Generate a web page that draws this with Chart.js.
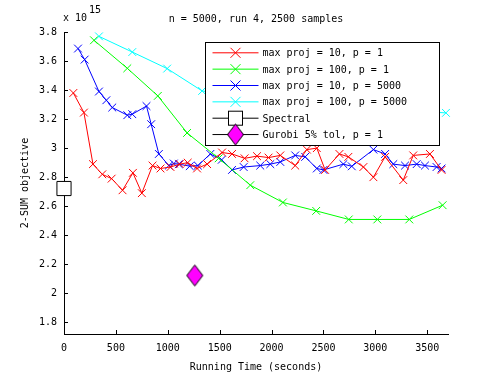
<!DOCTYPE html>
<html>
<head>
<meta charset="utf-8">
<script src="https://cdn.jsdelivr.net/npm/chart.js@4/dist/chart.umd.min.js"></script>
<style>
  body { margin: 0; background: #fff; }
  canvas { display: block; }
</style>
</head>
<body>
<canvas id="chart" width="495" height="375"></canvas>
<script>
// values are in units of 10^15
var redTime = [90, 192, 279, 369, 459, 564, 664, 750, 853, 930, 1026, 1115, 1192, 1282, 1379, 1523, 1619, 1740, 1860, 1971, 2084, 2228, 2340, 2436, 2516, 2654, 2740, 2885, 2981, 3094, 3269, 3365, 3526, 3638];
var redObj = [3.38, 3.245, 2.89, 2.82, 2.79, 2.71, 2.83, 2.69, 2.88, 2.86, 2.87, 2.89, 2.90, 2.86, 2.89, 2.97, 2.96, 2.93, 2.945, 2.935, 2.95, 2.88, 2.99, 3.0, 2.85, 2.96, 2.94, 2.87, 2.80, 2.94, 2.78, 2.95, 2.96, 2.85];

var greenTime = [289, 610, 904, 1186, 1490, 1795, 2109, 2430, 2744, 3019, 3327, 3648];
var greenObj = [3.743, 3.55, 3.36, 3.105, 2.93, 2.745, 2.626, 2.568, 2.509, 2.509, 2.509, 2.607];

var blueTime = [135, 199, 337, 408, 465, 610, 658, 795, 840, 914, 1010, 1058, 1106, 1212, 1290, 1410, 1520, 1619, 1731, 1891, 1988, 2084, 2228, 2324, 2436, 2500, 2692, 2773, 2981, 3094, 3173, 3286, 3398, 3478, 3590, 3638];
var blueObj = [3.686, 3.61, 3.39, 3.33, 3.28, 3.227, 3.234, 3.29, 3.165, 2.96, 2.88, 2.894, 2.89, 2.876, 2.88, 2.96, 2.92, 2.85, 2.87, 2.88, 2.89, 2.905, 2.95, 2.94, 2.86, 2.85, 2.89, 2.875, 2.99, 2.96, 2.89, 2.88, 2.89, 2.88, 2.87, 2.86];

var cyanTime = [337, 658, 994, 1331, 1660, 2000, 2330, 2660, 3000, 3340, 3680];
var cyanObj = [3.77, 3.662, 3.548, 3.394, 3.36, 3.335, 3.31, 3.29, 3.27, 3.255, 3.243];

var spectralTime = [0];
var spectralObj = [2.722];
var gurobiTime = [1260];
var gurobiObj = [2.123];

var seriesNames = ['max proj = 10, p = 1', 'max proj = 100, p = 1', 'max proj = 10, p = 5000', 'max proj = 100, p = 5000', 'Spectral', 'Gurobi 5% tol, p = 1'];
var seriesColors = ['#ff0000', '#00ff00', '#0000ff', '#00ffff', '#000000', '#000000'];

var xTicks = [0, 500, 1000, 1500, 2000, 2500, 3000, 3500];
var yTicks = [1.8, 2, 2.2, 2.4, 2.6, 2.8, 3, 3.2, 3.4, 3.6, 3.8];

var FONT = 'DejaVu Sans Mono';
Chart.defaults.font.family = FONT;
Chart.defaults.font.size = 10;
Chart.defaults.color = '#000';

function zip(xs, ys) {
  return xs.map(function (x, i) { return { x: x, y: ys[i] }; });
}

function makeDiamond() {
  var c = document.createElement('canvas');
  c.width = 19; c.height = 24;
  var g = c.getContext('2d');
  g.beginPath();
  g.moveTo(9.5, 1.5); g.lineTo(17.5, 12); g.lineTo(9.5, 22.5); g.lineTo(1.5, 12);
  g.closePath();
  g.fillStyle = '#ff00ff'; g.fill();
  g.strokeStyle = '#000'; g.lineWidth = 1; g.stroke();
  return c;
}
var diamond = makeDiamond();

function crossSeries(i, xs, ys) {
  return {
    label: seriesNames[i],
    data: zip(xs, ys),
    borderColor: seriesColors[i],
    borderWidth: 1,
    pointStyle: 'crossRot',
    pointRadius: 5.5,
    pointBorderColor: seriesColors[i],
    pointBorderWidth: 1,
    tension: 0,
    clip: false
  };
}

// inward tick marks, matlab style
var innerTicks = {
  id: 'innerTicks',
  afterDatasetsDraw: function (chart) {
    var ctx = chart.ctx, a = chart.chartArea;
    var xs = chart.scales.x, ys = chart.scales.y;
    ctx.save();
    ctx.strokeStyle = '#000';
    ctx.lineWidth = 1;
    ctx.beginPath();
    xTicks.forEach(function (v) {
      var px = Math.round(xs.getPixelForValue(v)) + 0.5;
      ctx.moveTo(px, a.bottom); ctx.lineTo(px, a.bottom - 4);
    });
    yTicks.forEach(function (v) {
      var py = Math.round(ys.getPixelForValue(v)) + 0.5;
      ctx.moveTo(a.left, py); ctx.lineTo(a.left + 4, py);
    });
    ctx.stroke();
    // exponent label
    ctx.fillStyle = '#000';
    ctx.font = '10px "' + FONT + '"';
    ctx.textBaseline = 'middle';
    ctx.textAlign = 'left';
    ctx.fillText('x 10', 63, 18);
    ctx.fillText('15', 89, 10);
    ctx.restore();
  }
};

// legend box inside the axes
var boxLegend = {
  id: 'boxLegend',
  afterDraw: function (chart) {
    var ctx = chart.ctx, a = chart.chartArea;
    var right = a.right - 8.5, top = a.top + 10.5;
    var left = right - 234, h = 103;
    ctx.save();
    ctx.fillStyle = '#fff';
    ctx.fillRect(left, top, 234, h);
    ctx.strokeStyle = '#000';
    ctx.lineWidth = 1;
    ctx.strokeRect(left, top, 234, h);
    ctx.font = '10px "' + FONT + '"';
    ctx.textBaseline = 'middle';
    seriesNames.forEach(function (name, i) {
      var y = top + 10.3 + i * 16.35;
      var mx = left + 30;
      ctx.strokeStyle = seriesColors[i];
      ctx.beginPath();
      ctx.moveTo(left + 7, y); ctx.lineTo(left + 53, y);
      ctx.stroke();
      if (i < 4) {
        ctx.beginPath();
        ctx.moveTo(mx - 5, y - 5); ctx.lineTo(mx + 5, y + 5);
        ctx.moveTo(mx - 5, y + 5); ctx.lineTo(mx + 5, y - 5);
        ctx.stroke();
      } else if (i === 4) {
        ctx.fillStyle = '#fff';
        ctx.fillRect(mx - 7, y - 7, 14, 14);
        ctx.strokeStyle = '#000';
        ctx.strokeRect(mx - 7, y - 7, 14, 14);
      } else {
        ctx.drawImage(diamond, mx - 9.5, y - 12);
      }
      ctx.fillStyle = '#000';
      ctx.fillText(name, left + 57, y + 1);
    });
    ctx.restore();
  }
};

var config = {
  type: 'line',
  data: {
    datasets: [
      crossSeries(0, redTime, redObj),
      crossSeries(1, greenTime, greenObj),
      crossSeries(2, blueTime, blueObj),
      crossSeries(3, cyanTime, cyanObj),
      {
        label: seriesNames[4],
        data: zip(spectralTime, spectralObj),
        showLine: false,
        pointStyle: 'rect',
        pointRadius: 10,
        backgroundColor: '#fff',
        borderColor: '#000',
        borderWidth: 1,
        clip: false
      },
      {
        label: seriesNames[5],
        data: zip(gurobiTime, gurobiObj),
        showLine: false,
        pointStyle: diamond,
        pointRadius: 10,
        clip: false
      }
    ]
  },
  options: {
    responsive: false,
    animation: false,
    layout: { padding: { top: 0, right: 47, bottom: 0, left: 0 } },
    plugins: {
      legend: { display: false },
      tooltip: { enabled: false },
      title: {
        display: true,
        fullSize: false,
        text: 'n = 5000, run 4, 2500 samples',
        font: { size: 10, weight: 'normal' },
        padding: { top: 13, bottom: 7 }
      }
    },
    scales: {
      x: {
        type: 'linear',
        min: 0,
        max: 3700,
        afterBuildTicks: function (s) { s.ticks = xTicks.map(function (v) { return { value: v }; }); },
        afterFit: function (s) { s.height = 41; },
        ticks: { padding: 8, maxRotation: 0, autoSkip: false, callback: function (v) { return String(v); } },
        grid: { display: false, drawTicks: false },
        border: { display: true, color: '#000', width: 1 },
        title: { display: true, text: 'Running Time (seconds)', padding: { top: 0, bottom: 2 } }
      },
      y: {
        type: 'linear',
        min: 1.72,
        max: 3.8,
        afterBuildTicks: function (s) { s.ticks = yTicks.map(function (v) { return { value: v }; }); },
        afterFit: function (s) { s.width = 64; },
        ticks: { padding: 7, autoSkip: false, callback: function (v) { return String(+v.toFixed(1)); } },
        grid: { display: false, drawTicks: false },
        border: { display: true, color: '#000', width: 1 },
        title: { display: true, text: '2-SUM objective', padding: { top: 19, bottom: 0 } }
      }
    }
  },
  plugins: [innerTicks, boxLegend]
};

window.myChart = new Chart(document.getElementById('chart').getContext('2d'), config);
</script>
</body>
</html>
